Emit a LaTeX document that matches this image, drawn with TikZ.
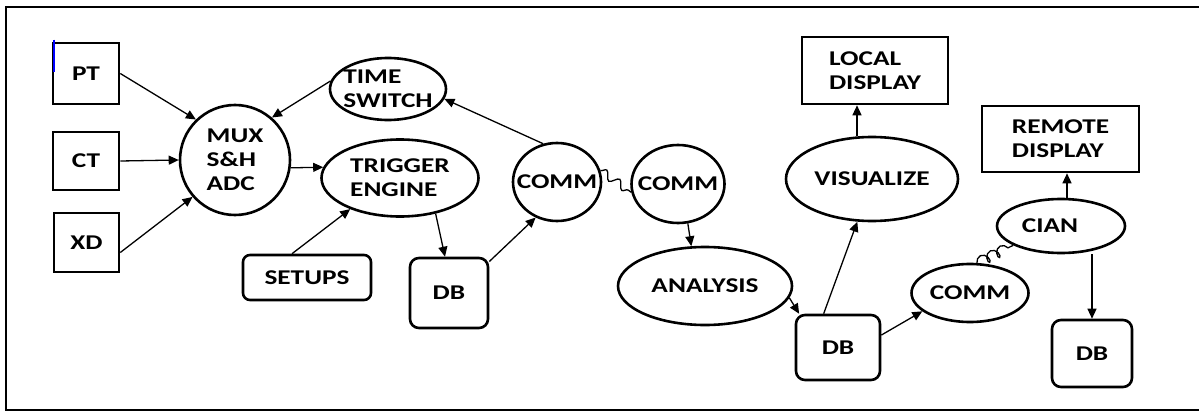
\documentclass[tikz,border=0pt]{standalone}
\usepackage{fontspec}
\setmainfont{Carlito}[FakeStretch=1.3]
\usetikzlibrary{shapes.geometric, arrows.meta, decorations.pathmorphing}

\begin{document}
\begin{tikzpicture}[x=1pt, y=-1pt, >={Triangle[length=10pt,width=9pt]},
    every node/.style={font=\fontsize{21}{24}\selectfont\bfseries, align=left, line width=2.6pt},
    blk/.style={draw, rectangle, inner sep=0pt},
    rblk/.style={draw, rectangle, rounded corners=9pt, inner sep=0pt},
    oval/.style={draw, ellipse, inner sep=-18pt},
    link/.style={->, line width=1.3pt},
    wave/.style={line width=1.3pt, decorate, decoration={snake, amplitude=4pt, segment length=16pt}},
    coilwire/.style={line width=1.3pt, decorate, decoration={coil, amplitude=5pt, segment length=11pt, aspect=0.7}}]
            \useasboundingbox (0,0) rectangle (1199,412);
            \draw[line width=2.6pt] (1199,7) -- (6,7) -- (6,410) -- (1199,410);

            % sensors and acquisition
            \node[blk, minimum width=66pt, minimum height=61pt] (pt) at (86,73.5) {PT};
            \node[blk, minimum width=66pt, minimum height=58pt] (ct) at (86,161) {CT};
            \node[blk, minimum width=65pt, minimum height=59pt] (xd) at (86.5,242.5) {XD};
            \draw[blue, line width=2.4pt] ([shift={(2,-2)}]pt.north west) -- ++(0,32);

            \node[oval, minimum width=110pt, minimum height=110pt] (mux) at (235,160) {MUX\\S\&H\\ADC};
            \node[oval, minimum width=116pt, minimum height=62pt] (time) at (388,89) {TIME\\SWITCH};
            \node[oval, minimum width=157pt, minimum height=77pt] (trig) at (400,178) {TRIGGER\\ENGINE};
            \node[rblk, minimum width=128pt, minimum height=45pt, rounded corners=7pt] (setups) at (307,277.5) {SETUPS};
            \node[rblk, minimum width=78pt, minimum height=70pt] (db-1) at (449,293) {DB};
            \node[oval, minimum width=88pt, minimum height=78pt] (comm-1) at (557,182) {COMM};

            % remote side
            \node[oval, minimum width=93pt, minimum height=78pt] (comm-2) at (678,184) {COMM};
            \node[oval, minimum width=174pt, minimum height=78pt] (analysis) at (705,286) {ANALYSIS};
            \node[rblk, minimum width=84pt, minimum height=65pt] (db-2) at (838,347.5) {DB};
            \node[oval, minimum width=172pt, minimum height=84pt] (vis) at (872,179) {VISUALIZE};
            \node[blk, minimum width=146pt, minimum height=67pt] (local) at (875,70.5) {LOCAL\\DISPLAY};
            \node[oval, minimum width=117pt, minimum height=58pt] (comm-3) at (970,293) {COMM};
            \node[oval, minimum width=128pt, minimum height=54pt] (cian) at (1061,226) {CIAN\hspace*{22pt}};
            \node[blk, minimum width=157pt, minimum height=66pt] (remote) at (1060.5,139) {REMOTE\\DISPLAY};
            \node[rblk, minimum width=80pt, minimum height=67pt] (db-3) at (1092,353.5) {DB};

            % Connections
            \draw[link] (pt.east) -- (mux.134);
            \draw[link] (ct.east) -- (mux.west);
            \draw[link] ([yshift=-10pt]xd.east) -- (mux.221);
            \draw[link] (time.172) -- (mux.49);
            \draw[link] (mux.-8) -- (trig.172);
            \draw[link] ([xshift=-15pt]setups.north) -- (trig.212);
            \draw[link] (trig.-45) -- ([xshift=-4pt]db-1.north);
            \draw[link] (db-1.38) -- (comm-1.239);
            \draw[link] (comm-1.110) -- (time.-10);
            \draw[wave] (comm-1.15) -- (comm-2.190);

            \draw[link] (comm-2.-76) -- (analysis.109);
            \draw[link] (analysis.-8) -- (db-2.139);
            \draw[link] (db-2.113) -- (vis.251);
            \draw[link] ([xshift=-15pt]vis.north) -- ([xshift=-15pt]vis.north |- local.south);
            \draw[link] (db-2.16) -- (comm-3.201);
            \draw[coilwire] (comm-3.77) -- (cian.202);
            \draw[link] ([xshift=6pt]cian.north) -- ([xshift=6pt]cian.north |- remote.south);
            \draw[link] (cian.south -| db-3.north) -- (db-3.north);
\end{tikzpicture}
\end{document}
